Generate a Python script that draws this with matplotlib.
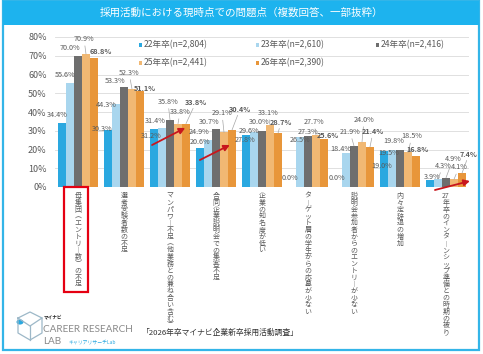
import re
import numpy as np
import matplotlib.pyplot as plt
from matplotlib.patches import Rectangle, Circle
from matplotlib.lines import Line2D

plt.rcParams['font.family'] = ['Noto Sans CJK JP', 'DejaVu Sans']

# ---- data ----
categories = ['母集団（エントリー数）の不足', '選考受験者数の不足',
              'マンパワー不足（他業務との兼ね合い含む）', '合同企業説明会での集客不足',
              '企業の知名度が低い', 'ターゲット層の学生からの応募が少ない',
              '説明会参加者からのエントリーが少ない', '内々定辞退の増加',
              '27年卒のインターンシップ準備との時期の被り']
series = ['22年卒(n=2,804)', '23年卒(n=2,610)', '24年卒(n=2,416)',
          '25年卒(n=2,441)', '26年卒(n=2,390)']
v22 = [34.4, 30.3, 31.2, 20.6, 27.8, 0.0, 0.0, 19.0, 3.9]
v23 = [55.6, 44.3, 31.4, 24.9, 29.6, 26.5, 18.4, 19.5, 4.3]
v24 = [70.0, 53.3, 35.8, 30.7, 30.0, 27.3, 21.9, 19.8, 4.9]
v25 = [70.9, 52.3, 33.8, 29.1, 33.1, 27.7, 24.0, 18.5, 4.1]
v26 = [68.8, 51.1, 33.8, 30.4, 28.7, 25.6, 21.4, 16.8, 7.4]
values = [v22, v23, v24, v25, v26]
colors = ['#2AA8E0', '#A9D6EE', '#6E6E6E', '#F1B873', '#E8963A']

# label offsets (pixels from bar top)
off22 = [(-5, 7.5), (-6, 1), (-3, -7.5), (0, 6.5), (-1, -5), (-2, 9), (-1, 9), (-2, -14.6), (2, 3)]
off23 = [(-5, 8), (-10, -1), (-7, 7), (-9, 8), (-5, 0.5), (0, -3), (-5, 3.5), (-3, -2.6), (5, 13)]
off24 = [(-8, 8), (-9, 6), (-2, 18), (-7, 7), (-3, 9), (0, 4), (-4, 14), (-6, 9), (7, 19)]
off25 = [(-2, 15), (-3, 16), (2, 11.6), (-2, 19), (-2, 12), (-2, 13), (2, 22), (4, 16), (5, 12)]
off26 = [(7, 7), (5, 3), (10, 21.6), (8, 21), (3, 11), (4, 4), (3, 15), (2, 6.5), (7, 19)]
offsets = [off22, off23, off24, off25, off26]

# red trend arrows: (category, value) start -> end
arrows = [((1.61, 22.4), (2.33, 31.5)),
          ((2.65, 14.4), (3.30, 22.4)),
          ((7.76, -1.6), (8.52, 3.2))]

W, H = 483, 354
fig = plt.figure(figsize=(W / 100, H / 100), dpi=100)
ax = fig.add_axes([55 / W, 1 - 187 / H, 414 / W, 150 / H])

gray = '#595959'
bw = 0.174
x = np.arange(len(categories))
for j, (vals, col) in enumerate(zip(values, colors)):
    xs = x + (j - 2) * bw
    ax.bar(xs, vals, width=bw, color=col, zorder=2)
    for xi, v, (dx, dy) in zip(xs, vals, offsets[j]):
        kw = dict(xy=(xi, v), xytext=(dx, dy), textcoords='offset pixels',
                  ha='center', va='center', fontsize=5.2, color=gray,
                  fontweight='bold' if j == 4 else 'normal', zorder=4)
        if dy >= 11:
            kw['arrowprops'] = dict(arrowstyle='-', color='#A6A6A6', lw=0.5,
                                    shrinkA=0, shrinkB=0)
        ax.annotate(f'{v:.1f}%', **kw)

for (x0, y0), (x1, y1) in arrows:
    ax.annotate('', xy=(x1, y1), xytext=(x0, y0), annotation_clip=False,
                arrowprops=dict(arrowstyle='-|>,head_length=0.35,head_width=0.18',
                                color='#C8161D', lw=1.3, shrinkA=0, shrinkB=0),
                zorder=5)

ax.set_xlim(-0.5, 8.5)
ax.set_ylim(0, 80)
ax.set_yticks(range(0, 81, 10))
ax.set_yticklabels([f'{t}%' for t in range(0, 81, 10)], fontsize=6.5, color=gray)
ax.tick_params(axis='y', length=0, pad=6)
ax.set_xticks([])
ax.grid(axis='y', color='#DADADA', lw=0.6, zorder=0)
for s in ax.spines.values():
    s.set_visible(False)
ax.axhline(0, color='#D0D0D0', lw=0.6, zorder=1)


def tate(s):
    table = {'（': '︵', '）': '︶', 'ー': '︱'}
    return '\n'.join(table.get(t, t) for t in re.findall(r'\d+|.', s))


for i, c in enumerate(categories):
    ax.annotate(tate(c), xy=(i, 0), xytext=(0, -5), textcoords='offset pixels',
                ha='center', va='top', fontsize=5, color=gray, linespacing=0.8)

# legend (row-major)
leg_pos = [(138, 45), (255, 45), (375, 45), (138, 63), (255, 63)]
for (px, py), name, col in zip(leg_pos, series, colors):
    fig.patches.append(Rectangle(((px + 1) / W, 1 - (py + 1.8) / H), 3.4 / W, 3.4 / H,
                                 transform=fig.transFigure, fc=col, ec='none'))
    fig.text((px + 6) / W, 1 - py / H, name, fontsize=6.2, color=gray,
             ha='left', va='center')

# frame and title band
fig.patches.append(Rectangle((3 / W, 1 - 350 / H), 476 / W, 349 / H,
                             transform=fig.transFigure, fill=False,
                             ec='#33B5E8', lw=1.6))
fig.patches.append(Rectangle((3 / W, 1 - 25 / H), 476 / W, 24 / H,
                             transform=fig.transFigure, fc='#1DB3EE', ec='none'))
fig.text(241 / W, 1 - 13 / H, '採用活動における現時点での問題点（複数回答、一部抜粋）',
         color='white', fontsize=7.6, ha='center', va='center')

# red highlight box around first category
fig.patches.append(Rectangle((64 / W, 1 - 292 / H), 24 / W, 105 / H,
                             transform=fig.transFigure, fill=False,
                             ec='#E50012', lw=1.6))

# logo
hx = np.array([18, 30, 42, 42, 30, 18, 18])
hy = np.array([318, 312, 318, 333, 340, 333, 318])
fig.lines.append(Line2D(hx / W, 1 - hy / H, transform=fig.transFigure,
                        color='#9DB8C8', lw=0.9))
fig.lines.append(Line2D(np.array([18, 30, 42]) / W, 1 - np.array([318, 326, 318]) / H,
                        transform=fig.transFigure, color='#9DB8C8', lw=0.9))
fig.lines.append(Line2D(np.array([30, 30]) / W, 1 - np.array([326, 340]) / H,
                        transform=fig.transFigure, color='#9DB8C8', lw=0.9))
fig.patches.append(Circle((20 / W, 1 - 322 / H), 3.5 / W, transform=fig.transFigure,
                          fc='#2AA8E0', ec='none'))
fig.text(44 / W, 1 - 317 / H, 'マイナビ', fontsize=3.3, color='#222222',
         fontweight='bold', va='center')
fig.text(43 / W, 1 - 329 / H, 'CAREER RESEARCH', fontsize=7.2, color='#8A8A8A',
         family='Lato', va='center')
fig.text(43 / W, 1 - 342 / H, 'LAB', fontsize=7.2, color='#8A8A8A',
         family='Lato', va='center')
fig.text(68 / W, 1 - 342 / H, 'キャリアリサーチLab', fontsize=3.5, color='#2AA8E0',
         va='center')
fig.text(142 / W, 1 - 333 / H, '「2026年卒マイナビ企業新卒採用活動調査」',
         fontsize=5.6, color='#333333', va='center')

fig.savefig('out.png', dpi=100)
